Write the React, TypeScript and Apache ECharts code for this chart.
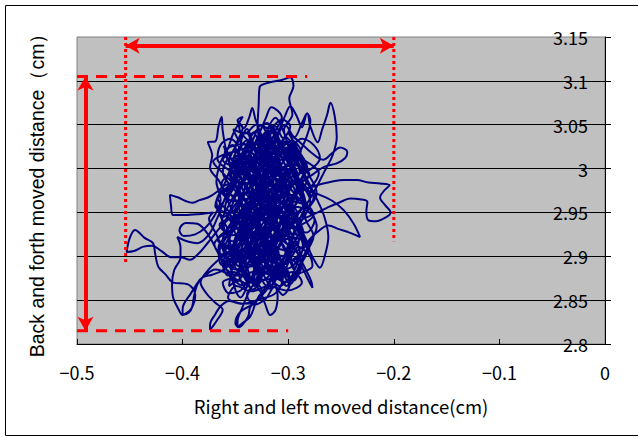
import React, { useEffect, useRef } from "react";
import * as echarts from "echarts";

const xMin = -0.5;
const xMax = 0;
const xStep = 0.1;
const yMin = 2.8;
const yMax = 3.15;
const yStep = 0.05;

const xTitle = "Right and left moved distance(cm)";
const yTitle = "Back and forth moved distance\uff08cm\uff09";

// trajectory of the centre of pressure (x: right/left, y: back/forth), cm
const track: number[][] = [
  [-0.322,2.958],[-0.331,2.981],[-0.326,3.006],[-0.338,3.024],[-0.333,3.041],[-0.324,3.019],[-0.316,2.996],[-0.323,2.972],[-0.310,2.949],[-0.318,2.926],[-0.332,2.905],[-0.340,2.884],[-0.329,2.869],[-0.321,2.892],[-0.308,2.914],[-0.300,2.938],[-0.312,2.962],[-0.304,2.987],[-0.296,3.009],[-0.308,3.030],[-0.317,3.050],[-0.323,3.029],[-0.334,3.012],[-0.348,2.997],[-0.355,2.974],[-0.343,2.952],[-0.351,2.929],[-0.339,2.911],[-0.346,2.892],[-0.335,2.875],[-0.325,2.861],
  [-0.333,2.846],[-0.345,2.837],[-0.350,2.824],[-0.347,2.819],[-0.338,2.831],[-0.336,2.842],[-0.328,2.853],[-0.318,2.872],
  [-0.311,2.897],[-0.322,2.921],[-0.315,2.944],[-0.329,2.967],[-0.320,2.991],[-0.331,3.013],[-0.322,3.039],[-0.312,3.058],[-0.304,3.041],[-0.298,3.018],[-0.289,2.996],[-0.302,2.975],[-0.295,2.951],[-0.306,2.928],[-0.298,2.904],[-0.310,2.882],[-0.302,2.866],[-0.315,2.884],[-0.326,2.908],[-0.337,2.931],[-0.330,2.956],[-0.344,2.979],[-0.336,3.003],[-0.350,3.024],[-0.343,3.047],[-0.348,3.055],[-0.343,3.059],
  [-0.352,3.040],[-0.358,3.022],[-0.362,3.043],[-0.363,3.059],[-0.366,3.048],[-0.369,3.031],[-0.376,3.030],[-0.372,3.015],[-0.374,3.001],[-0.365,2.985],[-0.357,2.962],[-0.349,2.940],[-0.356,2.917],[-0.348,2.896],
  [-0.339,2.904],[-0.332,2.927],[-0.323,2.948],[-0.315,2.973],[-0.306,2.997],[-0.315,3.020],[-0.325,2.999],[-0.334,2.976],[-0.326,2.952],[-0.337,2.928],[-0.329,2.903],[-0.320,2.881],[-0.313,2.902],[-0.304,2.923],[-0.293,2.944],[-0.284,2.963],[-0.292,2.987],[-0.301,3.008],[-0.310,3.027],[-0.318,3.006],[-0.327,2.984],[-0.318,2.960],[-0.310,2.936],[-0.319,2.914],[-0.328,2.891],
  [-0.322,2.916],[-0.330,2.943],[-0.324,2.969],[-0.333,2.995],[-0.326,3.021],[-0.329,3.047],[-0.328,3.072],[-0.327,3.093],[-0.318,3.098],[-0.306,3.101],[-0.298,3.104],[-0.295,3.094],[-0.299,3.080],[-0.296,3.062],[-0.304,3.044],[-0.299,3.021],[-0.308,2.999],[-0.300,2.976],[-0.309,2.952],[-0.301,2.930],[-0.310,2.908],[-0.317,2.886],
  [-0.330,2.874],[-0.344,2.867],[-0.356,2.879],[-0.369,2.885],[-0.381,2.876],[-0.384,2.873],[-0.392,2.858],[-0.400,2.840],[-0.400,2.833],[-0.392,2.840],[-0.388,2.856],[-0.395,2.868],[-0.409,2.870],[-0.412,2.873],[-0.416,2.879],[-0.423,2.888],[-0.426,2.903],[-0.428,2.915],[-0.436,2.921],[-0.445,2.930],[-0.450,2.921],[-0.453,2.905],[-0.446,2.906],[-0.437,2.911],[-0.429,2.912],[-0.420,2.906],[-0.411,2.899],[-0.402,2.899],[-0.393,2.896],[-0.385,2.903],[-0.377,2.914],[-0.369,2.926],
  [-0.358,2.944],[-0.350,2.968],[-0.342,2.990],[-0.352,3.010],[-0.341,3.028],[-0.333,3.007],[-0.324,2.985],[-0.333,2.962],[-0.323,2.939],[-0.314,2.917],[-0.322,2.895],[-0.312,2.874],[-0.305,2.889],[-0.296,2.912],[-0.288,2.934],[-0.296,2.958],[-0.289,2.981],[-0.298,3.003],[-0.306,3.025],[-0.314,3.046],[-0.320,3.024],[-0.329,3.002],[-0.339,2.981],[-0.347,2.958],[-0.341,2.935],[-0.352,2.913],[-0.344,2.891],[-0.336,2.870],[-0.331,2.892],[-0.323,2.915],[-0.331,2.938],[-0.322,2.962],[-0.314,2.985],[-0.321,3.009],[-0.312,3.032],
  [-0.303,3.050],[-0.294,3.036],[-0.287,3.052],[-0.282,3.063],[-0.279,3.048],[-0.272,3.030],[-0.268,3.044],[-0.263,3.062],[-0.260,3.075],[-0.256,3.060],[-0.254,3.036],[-0.258,3.015],[-0.266,2.996],[-0.274,2.977],[-0.283,2.958],[-0.291,2.937],[-0.299,2.916],[-0.307,2.895],
  [-0.316,2.912],[-0.326,2.931],[-0.335,2.951],[-0.345,2.972],[-0.354,2.992],[-0.346,3.013],[-0.337,2.994],[-0.328,2.973],[-0.337,2.950],[-0.346,2.927],[-0.338,2.905],[-0.347,2.883],[-0.340,2.864],[-0.332,2.884],[-0.324,2.906],[-0.316,2.929],[-0.307,2.951],[-0.299,2.972],[-0.307,2.995],[-0.316,3.016],[-0.325,3.037],[-0.331,3.015],[-0.340,2.995],[-0.332,2.971],[-0.341,2.947],[-0.333,2.924],
  [-0.322,2.941],[-0.311,2.956],[-0.299,2.966],[-0.286,2.975],[-0.273,2.981],[-0.259,2.985],[-0.247,2.987],[-0.235,2.987],[-0.224,2.984],[-0.213,2.983],[-0.204,2.981],[-0.209,2.975],[-0.213,2.967],[-0.208,2.958],[-0.203,2.950],[-0.208,2.944],[-0.217,2.940],[-0.224,2.941],[-0.226,2.951],[-0.225,2.962],[-0.232,2.965],[-0.241,2.966],[-0.252,2.961],[-0.262,2.956],[-0.272,2.950],[-0.283,2.944],[-0.294,2.938],[-0.305,2.930],
  [-0.314,2.909],[-0.323,2.887],[-0.332,2.866],[-0.339,2.887],[-0.347,2.909],[-0.339,2.932],[-0.349,2.955],[-0.341,2.978],[-0.350,3.001],[-0.340,3.020],[-0.331,3.000],[-0.322,2.978],[-0.313,2.955],[-0.304,2.932],[-0.312,2.909],[-0.303,2.886],[-0.295,2.872],[-0.288,2.894],[-0.296,2.918],[-0.287,2.941],[-0.279,2.962],[-0.288,2.984],[-0.297,3.005],[-0.306,3.027],[-0.315,3.044],[-0.322,3.024],[-0.331,3.001],[-0.322,2.978],[-0.331,2.954],[-0.340,2.931],[-0.348,2.909],[-0.355,2.887],
  [-0.361,2.905],[-0.368,2.925],[-0.375,2.943],[-0.371,2.950],[-0.385,2.948],[-0.398,2.947],[-0.409,2.947],[-0.411,2.958],[-0.412,2.970],[-0.404,2.967],[-0.397,2.963],[-0.391,2.961],[-0.384,2.964],[-0.376,2.967],[-0.368,2.973],[-0.361,2.981],[-0.356,2.996],[-0.349,3.015],
  [-0.341,2.995],[-0.333,2.973],[-0.342,2.950],[-0.334,2.927],[-0.325,2.904],[-0.318,2.881],[-0.309,2.903],[-0.318,2.926],[-0.309,2.949],[-0.300,2.971],[-0.309,2.994],[-0.318,3.016],[-0.327,3.034],[-0.336,3.016],[-0.345,2.996],[-0.354,2.975],[-0.360,2.954],[-0.352,2.932],[-0.360,2.910],[-0.352,2.889],[-0.344,2.903],[-0.336,2.925],[-0.327,2.947],[-0.318,2.968],[-0.327,2.991],[-0.318,3.012],[-0.309,3.033],[-0.300,3.013],[-0.291,2.992],[-0.300,2.970],[-0.291,2.947],[-0.300,2.925],[-0.291,2.903],[-0.283,2.884],
  [-0.278,2.871],[-0.277,2.864],[-0.283,2.878],[-0.289,2.897],[-0.281,2.917],[-0.272,2.928],[-0.262,2.935],[-0.252,2.931],[-0.242,2.927],[-0.232,2.922],[-0.238,2.937],[-0.247,2.952],[-0.258,2.963],[-0.270,2.970],[-0.282,2.975],[-0.294,2.983],
  [-0.303,3.004],[-0.311,3.025],[-0.319,3.004],[-0.310,2.981],[-0.319,2.958],[-0.328,2.936],[-0.319,2.913],[-0.328,2.891],[-0.337,2.871],[-0.345,2.853],[-0.352,2.872],[-0.343,2.894],[-0.351,2.916],[-0.342,2.939],[-0.334,2.962],[-0.342,2.985],[-0.333,3.008],[-0.324,3.029],[-0.315,3.008],[-0.306,2.986],[-0.315,2.962],[-0.306,2.939],[-0.297,2.916],[-0.306,2.893],[-0.297,2.873],[-0.289,2.891],[-0.281,2.912],[-0.273,2.934],[-0.281,2.957],[-0.290,2.979],[-0.282,3.001],[-0.291,3.022],[-0.300,3.041],
  [-0.289,3.030],[-0.278,3.018],[-0.267,3.010],[-0.258,3.018],[-0.251,3.024],[-0.244,3.019],[-0.246,3.012],[-0.254,3.006],[-0.266,3.002],[-0.276,2.994],[-0.286,2.985],
  [-0.296,2.963],[-0.305,2.941],[-0.314,2.918],[-0.323,2.897],[-0.332,2.876],[-0.324,2.858],[-0.316,2.877],[-0.325,2.900],[-0.334,2.921],[-0.343,2.943],[-0.335,2.966],[-0.344,2.989],[-0.353,3.009],[-0.361,3.026],[-0.355,3.004],[-0.347,2.982],[-0.355,2.961],[-0.363,2.939],[-0.356,2.917],[-0.363,2.897],[-0.357,2.878],[-0.349,2.896],[-0.341,2.918],[-0.332,2.940],[-0.323,2.962],[-0.314,2.984],[-0.323,3.006],[-0.332,3.026],[-0.339,3.045],[-0.345,3.027],[-0.335,3.006],[-0.326,2.984],[-0.316,2.962],[-0.307,2.940],[-0.316,2.918],[-0.307,2.896],
  [-0.315,2.876],[-0.323,2.858],[-0.333,2.847],[-0.345,2.846],[-0.356,2.849],[-0.364,2.843],[-0.369,2.834],[-0.374,2.822],[-0.374,2.816],[-0.368,2.826],[-0.362,2.839],[-0.369,2.847],[-0.377,2.857],[-0.383,2.870],[-0.376,2.884],[-0.366,2.896],[-0.356,2.906],
  [-0.347,2.925],[-0.338,2.947],[-0.347,2.970],[-0.338,2.992],[-0.329,3.013],[-0.320,2.993],[-0.311,2.971],[-0.320,2.948],[-0.311,2.926],[-0.302,2.904],[-0.294,2.884],[-0.302,2.866],[-0.310,2.887],[-0.319,2.909],[-0.310,2.931],[-0.302,2.953],[-0.293,2.975],[-0.285,2.996],[-0.293,3.018],[-0.302,3.036],[-0.310,3.015],[-0.319,2.993],[-0.328,2.970],[-0.337,2.948],[-0.328,2.925],[-0.337,2.903],[-0.346,2.882],[-0.354,2.902],[-0.346,2.925],[-0.355,2.947],[-0.346,2.969],[-0.355,2.991],[-0.346,3.012],[-0.337,3.033],
  [-0.345,3.010],[-0.352,2.988],[-0.360,2.966],[-0.367,2.944],[-0.375,2.925],[-0.386,2.915],[-0.398,2.918],[-0.405,2.922],[-0.402,2.910],[-0.402,2.899],[-0.408,2.884],[-0.410,2.868],[-0.409,2.853],[-0.404,2.840],[-0.400,2.833],[-0.394,2.836],[-0.391,2.842],[-0.389,2.856],[-0.386,2.868],[-0.381,2.876],[-0.372,2.879],[-0.362,2.884],
  [-0.353,2.895],[-0.344,2.916],[-0.335,2.938],[-0.326,2.960],[-0.335,2.983],[-0.326,3.005],[-0.317,3.027],[-0.308,3.006],[-0.299,2.984],[-0.308,2.961],[-0.299,2.939],[-0.290,2.917],[-0.299,2.895],[-0.308,2.875],[-0.317,2.895],[-0.326,2.917],[-0.317,2.940],[-0.326,2.962],[-0.317,2.985],[-0.308,3.007],[-0.317,3.030],[-0.326,3.050],[-0.334,3.031],[-0.343,3.010],[-0.352,2.989],[-0.343,2.966],[-0.352,2.944],[-0.343,2.921],[-0.334,2.899],[-0.326,2.879],[-0.318,2.899],[-0.310,2.921],[-0.301,2.943],[-0.292,2.965],[-0.300,2.987],
  [-0.309,2.967],[-0.318,2.945],[-0.327,2.923],[-0.336,2.901],[-0.329,2.879],[-0.337,2.860],[-0.344,2.840],[-0.348,2.826],[-0.348,2.819],[-0.342,2.825],[-0.336,2.831],[-0.331,2.846],[-0.326,2.857],[-0.322,2.846],[-0.317,2.833],[-0.312,2.839],[-0.310,2.855],[-0.313,2.870],
  [-0.321,2.891],[-0.330,2.912],[-0.321,2.934],[-0.330,2.957],[-0.339,2.979],[-0.330,3.001],[-0.339,3.023],[-0.330,3.043],[-0.322,3.022],[-0.313,3.000],[-0.304,2.978],[-0.313,2.956],[-0.304,2.934],[-0.313,2.912],[-0.304,2.891],[-0.295,2.909],[-0.286,2.929],[-0.295,2.952],[-0.286,2.974],[-0.295,2.996],[-0.304,3.018],[-0.313,3.039],[-0.306,3.058],[-0.316,3.070],[-0.321,3.058],[-0.330,3.033],[-0.339,3.013],[-0.348,2.992],[-0.357,2.971],[-0.365,2.950],[-0.357,2.928],[-0.365,2.906],[-0.358,2.884],[-0.350,2.866],
  [-0.359,2.886],[-0.367,2.905],[-0.376,2.925],[-0.386,2.937],[-0.397,2.938],[-0.403,2.930],[-0.399,2.923],[-0.388,2.925],[-0.378,2.933],[-0.370,2.946],[-0.364,2.965],[-0.368,2.985],[-0.366,3.000],[-0.361,3.015],[-0.353,3.027],
  [-0.344,3.006],[-0.335,2.985],[-0.344,2.962],[-0.335,2.940],[-0.326,2.918],[-0.335,2.896],[-0.326,2.875],[-0.318,2.863],[-0.311,2.883],[-0.302,2.905],[-0.311,2.927],[-0.302,2.949],[-0.311,2.971],[-0.320,2.993],[-0.311,3.015],[-0.302,3.030],[-0.293,3.010],[-0.284,2.988],[-0.276,2.967],[-0.284,2.945],[-0.276,2.923],[-0.284,2.902],[-0.292,2.881],[-0.300,2.899],[-0.309,2.921],[-0.318,2.943],[-0.327,2.965],[-0.318,2.987],[-0.327,3.009],[-0.336,3.029],[-0.345,3.041],
  [-0.347,3.051],[-0.348,3.055],[-0.342,3.046],[-0.337,3.058],[-0.334,3.069],[-0.331,3.056],[-0.326,3.040],[-0.319,3.021],[-0.310,3.040],[-0.303,3.060],[-0.298,3.071],[-0.292,3.060],[-0.287,3.047],[-0.282,3.063],[-0.279,3.054],[-0.283,3.035],[-0.290,3.016],
  [-0.298,2.995],[-0.307,2.973],[-0.298,2.951],[-0.307,2.929],[-0.316,2.907],[-0.325,2.886],[-0.333,2.906],[-0.342,2.928],[-0.351,2.950],[-0.342,2.972],[-0.351,2.994],[-0.342,3.015],[-0.333,2.995],[-0.324,2.972],[-0.315,2.950],[-0.324,2.928],[-0.315,2.906],[-0.306,2.884],[-0.298,2.868],[-0.290,2.887],[-0.282,2.907],[-0.290,2.930],[-0.282,2.952],[-0.273,2.972],[-0.281,2.994],[-0.290,3.015],[-0.299,3.032],
  [-0.292,3.011],[-0.283,2.990],[-0.274,2.968],[-0.266,2.946],[-0.262,2.922],[-0.265,2.902],[-0.270,2.887],[-0.276,2.897],[-0.283,2.915],[-0.291,2.935],[-0.300,2.956],
  [-0.309,2.978],[-0.318,3.000],[-0.327,2.978],[-0.336,2.956],[-0.327,2.934],[-0.336,2.911],[-0.345,2.889],[-0.337,2.870],[-0.329,2.888],[-0.320,2.910],[-0.329,2.932],[-0.320,2.955],[-0.311,2.977],[-0.302,2.999],[-0.311,3.021],[-0.320,3.041],[-0.328,3.021],[-0.337,2.999],[-0.346,2.977],[-0.337,2.955],[-0.346,2.933],[-0.337,2.911],[-0.328,2.891],[-0.319,2.912],[-0.310,2.934],[-0.319,2.956],[-0.310,2.978],[-0.301,3.000],[-0.292,2.978],[-0.301,2.956],[-0.310,2.934],
  [-0.318,2.915],[-0.336,2.922],[-0.352,2.917],[-0.361,2.934],[-0.349,2.946],[-0.331,2.943],[-0.314,2.952],[-0.298,2.947],[-0.286,2.958],[-0.297,2.970],[-0.315,2.968],[-0.333,2.973],[-0.351,2.969],[-0.363,2.983],[-0.350,2.995],[-0.332,2.990],[-0.313,2.995],[-0.296,2.991],[-0.283,3.003],[-0.297,3.012],[-0.316,3.008],[-0.335,3.013],[-0.353,3.006],[-0.360,3.019],[-0.344,3.028],[-0.326,3.022],[-0.309,3.031],[-0.293,3.026],
  [-0.301,3.005],[-0.318,2.983],[-0.336,2.961],[-0.354,2.938],[-0.362,2.918],[-0.346,2.904],[-0.328,2.898],[-0.309,2.892],[-0.292,2.897],[-0.280,2.908],[-0.293,2.921],[-0.311,2.917],[-0.330,2.912],[-0.348,2.902],[-0.360,2.889],[-0.347,2.878],[-0.329,2.883],[-0.311,2.877],[-0.296,2.882],[-0.287,2.870],[-0.301,2.861],[-0.318,2.866],[-0.335,2.860],[-0.349,2.866],[-0.357,2.853],[-0.343,2.846],[-0.327,2.851],[-0.312,2.858],
  [-0.305,2.876],[-0.313,2.897],[-0.306,2.919],[-0.314,2.940],[-0.307,2.962],[-0.315,2.983],[-0.308,3.004],[-0.316,3.025],[-0.323,3.004],[-0.330,2.983],[-0.323,2.962],[-0.331,2.940],[-0.324,2.919],[-0.332,2.897],[-0.325,2.876],[-0.334,2.862],[-0.341,2.880],[-0.349,2.900],[-0.356,2.921],[-0.349,2.943],[-0.357,2.964],[-0.349,2.986],[-0.356,3.007],[-0.349,3.027],[-0.340,3.041],[-0.334,3.023],[-0.340,3.002],[-0.334,2.980],[-0.340,2.958],[-0.334,2.937],[-0.340,2.915],[-0.334,2.893],
  [-0.322,2.905],[-0.311,2.927],[-0.296,2.934],[-0.283,2.927],[-0.275,2.941],[-0.287,2.955],[-0.303,2.958],[-0.292,2.972],[-0.278,2.980],[-0.271,2.995],[-0.284,3.009],[-0.297,3.019],[-0.287,3.034],[-0.276,3.027],[-0.270,3.012],[-0.279,2.999],[-0.293,2.993],[-0.305,2.984],[-0.296,2.968],[-0.283,2.960],[-0.276,2.947],[-0.289,2.935],[-0.303,2.929],[-0.294,2.915],[-0.281,2.903],[-0.277,2.889],[-0.290,2.880],[-0.303,2.871],
  [-0.318,2.880],[-0.332,2.888],[-0.347,2.894],[-0.361,2.900],[-0.370,2.914],[-0.359,2.927],[-0.345,2.935],[-0.356,2.948],[-0.369,2.957],[-0.364,2.973],[-0.352,2.981],[-0.362,2.995],[-0.371,3.008],[-0.359,3.017],[-0.346,3.022],[-0.355,3.034],[-0.364,3.027],[-0.367,3.011],[-0.357,2.999],[-0.345,2.990],[-0.355,2.978],[-0.367,2.967],[-0.358,2.953],[-0.346,2.944],[-0.357,2.931],[-0.367,2.919],[-0.356,2.908],[-0.342,2.899],
  [-0.327,2.914],[-0.317,2.933],[-0.327,2.954],[-0.318,2.975],[-0.328,2.996],[-0.319,3.017],[-0.328,3.037],[-0.320,3.052],[-0.313,3.034],[-0.322,3.013],[-0.314,2.992],[-0.323,2.970],[-0.314,2.949],[-0.324,2.927],[-0.315,2.905],[-0.324,2.884],[-0.316,2.867],[-0.309,2.885],[-0.318,2.906],[-0.309,2.927],[-0.319,2.949],[-0.310,2.970],[-0.320,2.991],[-0.311,3.012],[-0.321,3.033],[-0.312,3.048],
  [-0.305,3.035],[-0.298,3.048],[-0.306,3.056],[-0.318,3.046],[-0.330,3.050],[-0.341,3.040],[-0.352,3.045],[-0.345,3.030],[-0.333,3.026],[-0.321,3.036],[-0.309,3.022],[-0.297,3.032],[-0.288,3.020],[-0.300,3.011],[-0.312,3.017],[-0.325,3.011],[-0.337,3.019],[-0.350,3.012],[-0.340,3.001],
  [-0.332,2.985],[-0.325,2.963],[-0.333,2.941],[-0.326,2.919],[-0.335,2.897],[-0.329,2.876],[-0.339,2.856],[-0.332,2.845],[-0.321,2.852],[-0.313,2.865],[-0.305,2.856],[-0.298,2.871],[-0.305,2.889],[-0.317,2.888],[-0.329,2.899],[-0.340,2.891],[-0.351,2.877],[-0.362,2.870],[-0.356,2.858],[-0.345,2.861],[-0.336,2.874],[-0.324,2.873],[-0.312,2.886],[-0.300,2.893],[-0.289,2.905],[-0.297,2.926],[-0.307,2.944],[-0.317,2.958],[-0.327,2.944],[-0.340,2.952],[-0.330,2.968],[-0.318,2.980],[-0.306,2.973],[-0.296,2.985],[-0.306,2.999],[-0.320,2.996],[-0.333,3.004],[-0.321,3.016],[-0.310,3.012],
  [-0.302,3.024],[-0.296,3.002],[-0.303,2.980],[-0.297,2.957],[-0.305,2.935],[-0.298,2.913],[-0.306,2.890],[-0.300,2.872],[-0.292,2.890],[-0.286,2.912],[-0.292,2.934],[-0.284,2.956],[-0.291,2.978],[-0.284,3.000],[-0.292,3.021],[-0.300,3.040],[-0.309,3.024],[-0.316,3.003],[-0.325,2.985],[-0.336,2.969],[-0.345,2.951],[-0.354,2.931],[-0.362,2.912],[-0.353,2.901],[-0.344,2.921],[-0.338,2.943],[-0.330,2.966],[-0.322,2.988],[-0.313,3.009],[-0.305,3.029],
  [-0.315,3.018],[-0.333,3.024],[-0.350,3.020],[-0.362,3.010],[-0.348,3.002],[-0.330,3.007],[-0.312,3.000],[-0.295,3.004],[-0.280,2.994],[-0.293,2.983],[-0.311,2.988],[-0.329,2.981],[-0.347,2.985],[-0.364,2.976],[-0.352,2.963],[-0.334,2.966],[-0.316,2.960],[-0.298,2.963],[-0.281,2.954],[-0.294,2.942],[-0.312,2.947],[-0.330,2.940],[-0.348,2.944],[-0.365,2.936],[-0.353,2.924],[-0.335,2.928],[-0.317,2.922],[-0.299,2.926],[-0.283,2.918],[-0.295,2.905],[-0.313,2.909],[-0.331,2.903],[-0.349,2.907],[-0.361,2.896],[-0.350,2.885],[-0.332,2.889],[-0.314,2.884],[-0.298,2.887],
  [-0.290,2.900],[-0.305,2.918],[-0.320,2.938],[-0.336,2.957],[-0.351,2.976],[-0.362,2.996],[-0.355,3.012],[-0.340,2.992],[-0.325,2.973],[-0.309,2.953],[-0.294,2.934],[-0.282,2.916],[-0.290,2.936],[-0.303,2.956],[-0.318,2.976],[-0.333,2.995],[-0.347,3.015],[-0.339,3.032],[-0.325,3.012],[-0.310,2.993],[-0.295,2.973],[-0.281,2.953],[-0.287,2.972],[-0.300,2.992],[-0.314,3.012],[-0.328,3.030],[-0.318,3.043],[-0.305,3.022],[-0.290,3.003],[-0.283,2.984],
  [-0.296,2.968],[-0.311,2.949],[-0.326,2.930],[-0.341,2.910],[-0.355,2.891],[-0.348,2.873],[-0.335,2.891],[-0.320,2.911],[-0.305,2.930],[-0.290,2.950],[-0.279,2.968],[-0.291,2.986],[-0.306,2.967],[-0.321,2.948],[-0.336,2.928],[-0.351,2.909],[-0.363,2.890],[-0.366,2.910],[-0.353,2.929],[-0.338,2.949],[-0.323,2.968],[-0.308,2.988],[-0.294,3.007],[-0.302,3.022],[-0.317,3.003],[-0.332,2.983],[-0.347,2.964],[-0.361,2.945],[-0.368,2.962],[-0.356,2.981],[-0.342,3.001],[-0.327,3.020],[-0.313,3.038],
  [-0.322,3.020],[-0.329,2.998],[-0.324,2.975],[-0.331,2.952],[-0.325,2.930],[-0.333,2.907],[-0.327,2.884],[-0.336,2.865],[-0.346,2.872],[-0.356,2.866],[-0.352,2.882],[-0.341,2.877],[-0.330,2.870],[-0.319,2.874],[-0.308,2.866],[-0.297,2.877],[-0.288,2.885],[-0.296,2.896],[-0.308,2.901],[-0.319,2.895],[-0.331,2.896],[-0.344,2.888],[-0.354,2.897],[-0.346,2.912],[-0.333,2.916],[-0.321,2.925],[-0.309,2.936],
];

// red annotation guides (data coordinates)
const topDash = [[-0.5, 3.105], [-0.282, 3.105]];
const bottomDash = [[-0.5, 2.815], [-0.3, 2.815]];
const leftDot = [[-0.454, 3.15], [-0.454, 2.89]];
const rightDot = [[-0.2, 3.15], [-0.2, 2.917]];
const vArrow = [[-0.492, 2.815], [-0.492, 3.105]];
const hArrow = [[-0.454, 3.14], [-0.2, 3.14]];

const gothic = "'Noto Sans CJK JP', 'Noto Sans', sans-serif";

export default function App() {
  const ref = useRef<HTMLDivElement>(null);
  useEffect(() => {
    if (!ref.current) return;
    const chart = echarts.init(ref.current, undefined, { renderer: "svg" });
    const red = "#FF0000";
    const guide = (data: number[][], type: any) => ({
      type: "line",
      data,
      showSymbol: false,
      silent: true,
      z: 5,
      lineStyle: { color: red, width: 3, type },
    });
    const arrowItem = (pts: number[][]) => [
      { coord: pts[0] },
      { coord: pts[1] },
    ];
    chart.setOption({
      animation: false,
      backgroundColor: "#FFFFFF",
      grid: {
        left: 77,
        right: 33,
        top: 37,
        bottom: 93,
        show: true,
        backgroundColor: "#C0C0C0",
        borderColor: "#808080",
        borderWidth: 1,
      },
      xAxis: {
        type: "value",
        min: xMin,
        max: xMax,
        interval: xStep,
        name: xTitle,
        nameLocation: "middle",
        nameGap: 53,
        nameTextStyle: { fontSize: 18.5, color: "#000", fontFamily: gothic },
        axisLine: { show: true, onZero: false, lineStyle: { color: "#000", width: 1 } },
        axisTick: { show: true, inside: true, length: 5, lineStyle: { color: "#000" } },
        axisLabel: {
          fontSize: 18,
          color: "#000",
          fontFamily: gothic,
          margin: 19,
          formatter: (v: number) => (Math.abs(v) < 1e-9 ? "0" : "\u2212" + Math.abs(v).toFixed(1)),
        },
        splitLine: { show: false },
      },
      yAxis: [
        {
          type: "value",
          position: "right",
          min: yMin,
          max: yMax,
          interval: yStep,
          axisLine: { show: true, onZero: false, lineStyle: { color: "#000", width: 1 } },
          axisTick: { show: true, inside: false, length: 6, lineStyle: { color: "#000" } },
          axisLabel: {
            inside: true,
            margin: 17,
            fontSize: 18,
            color: "#000",
            fontFamily: gothic,
            formatter: (v: number) => String(parseFloat(v.toFixed(2))),
          },
          splitLine: { show: true, showMaxLine: false, lineStyle: { color: "#000", width: 1 } },
        },
        {
          type: "value",
          position: "left",
          min: yMin,
          max: yMax,
          interval: yStep,
          name: yTitle,
          nameLocation: "middle",
          nameGap: 30,
          nameTextStyle: { fontSize: 19.5, color: "#000", fontFamily: "'Liberation Sans', Arial, sans-serif" },
          axisLine: { show: false },
          axisTick: { show: false },
          axisLabel: { show: false },
          splitLine: { show: false },
        },
      ],
      graphic: [
        {
          type: "rect",
          shape: { x: 5.5, y: 5.5, width: 660, height: 430 },
          style: { fill: "none", stroke: "#000", lineWidth: 1 },
          silent: true,
        },
      ],
      series: [
        {
          type: "line",
          data: track,
          showSymbol: false,
          smooth: 0.35,
          silent: true,
          z: 2,
          lineStyle: { color: "#000080", width: 2 },
        },
        guide(topDash, [11, 8]),
        guide(bottomDash, [11, 8]),
        guide(leftDot, [3, 3]),
        guide(rightDot, [3, 3]),
        {
          type: "line",
          data: [],
          silent: true,
          z: 6,
          markLine: {
            silent: true,
            animation: false,
            symbol: ["arrow", "arrow"],
            symbolSize: [12, 14],
            label: { show: false },
            lineStyle: { color: red, width: 4, type: "solid" },
            data: [arrowItem(vArrow), arrowItem(hArrow)],
          },
        },
      ],
    });
    return () => chart.dispose();
  }, []);
  return (
    <div
      ref={ref}
      style={{ position: "fixed", left: 0, top: 0, width: 638, height: 437 }}
    />
  );
}
